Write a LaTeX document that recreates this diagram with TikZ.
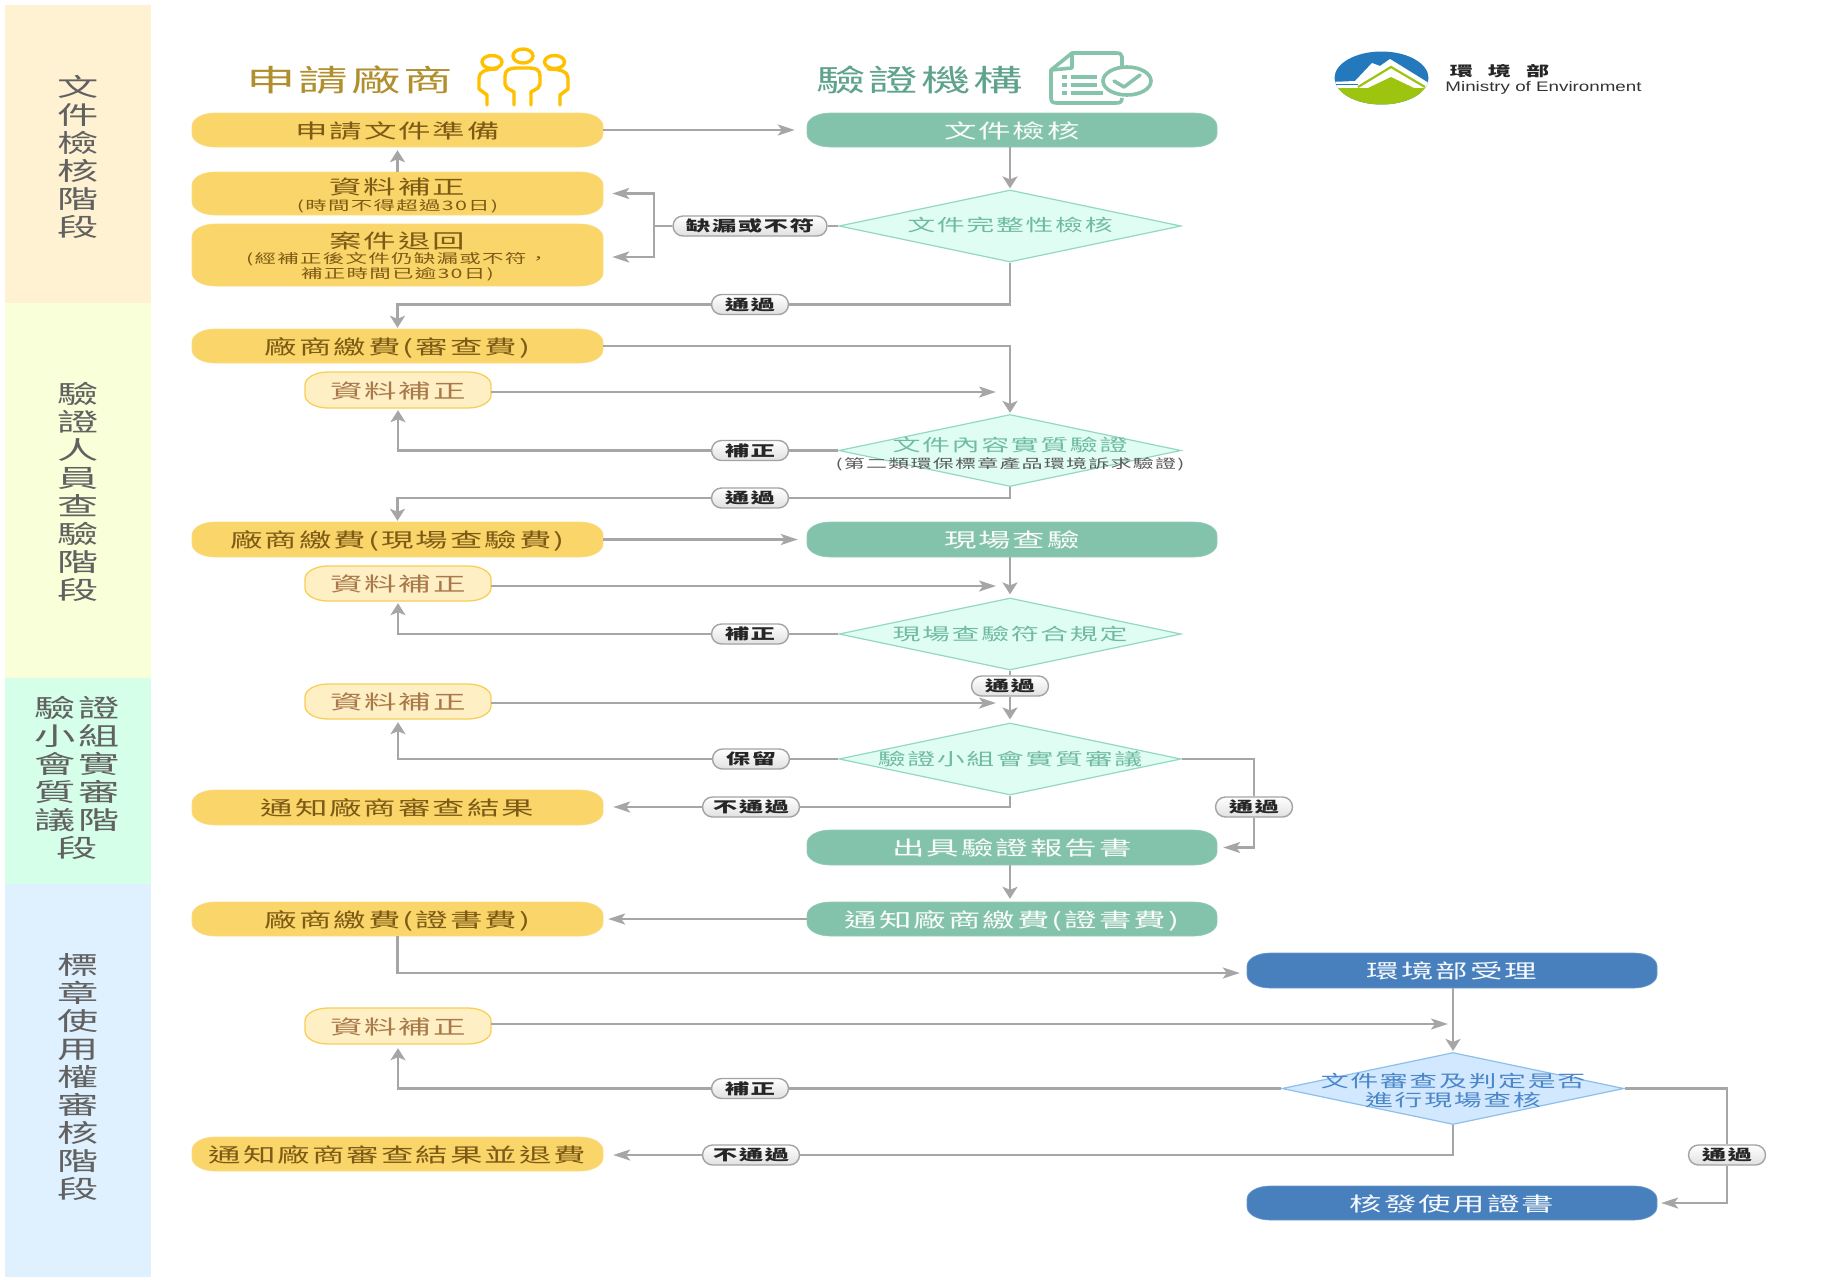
\documentclass[tikz,border=0pt]{standalone}
\usepackage{fontspec}
\usetikzlibrary{arrows.meta,shapes.geometric,calc}
\setmainfont[FakeStretch=1.65,LetterSpace=10]{Noto Sans CJK TC}
\newfontfamily\latinlogo[FakeStretch=1.36]{Liberation Sans}
\definecolor{pOrange}{HTML}{FFF2D3}
\definecolor{pLime}{HTML}{F8FFD9}
\definecolor{pMint}{HTML}{D5FFE9}
\definecolor{pBlue}{HTML}{DFF0FE}
\definecolor{cYel}{HTML}{FAD569}
\definecolor{cGrn}{HTML}{84C3AB}
\definecolor{cBlu}{HTML}{487FBD}
\definecolor{cLine}{HTML}{A6A6A6}
\definecolor{smallFill}{HTML}{FFEFC5}\definecolor{smallEdge}{HTML}{F8CF55}
\definecolor{brownTxt}{HTML}{7D5A16}\definecolor{smallTxt}{HTML}{A8794A}
\definecolor{dgFill}{HTML}{E0FDF3}\definecolor{dgEdge}{HTML}{93D9BD}
\definecolor{dbFill}{HTML}{D2E8FE}\definecolor{dbEdge}{HTML}{8DBFEC}
\definecolor{dgTxt}{HTML}{6FBBA1}\definecolor{dbTxt}{HTML}{4A86C8}
\definecolor{hGold}{HTML}{B08F2E}\definecolor{hGreen}{HTML}{5FA38B}
\definecolor{iconGold}{HTML}{FFC000}\definecolor{iconGreen}{HTML}{86C3AB}
\definecolor{logoBlue}{HTML}{2478BC}\definecolor{logoGreen}{HTML}{9DC40F}
\newcommand{\fA}{\fontsize{19.7}{23}\selectfont}
\newcommand{\fB}{\fontsize{13}{15}\selectfont}
\newcommand{\fC}{\fontsize{16.9}{20}\selectfont}
\newcommand{\fP}{\fontsize{25}{28}\selectfont}
\newcommand{\fL}{\fontsize{14.8}{16}\selectfont\bfseries}
\tikzset{
  panel/.style={fill=#1,draw=none},
  paneltext/.style={align=center,text=black!62,font=\fP,inner sep=0pt},
  pyel/.style={fill=cYel,draw=cYel!85!white,line width=.6pt},
  pgrn/.style={fill=cGrn,draw=cGrn!85!white,line width=.6pt},
  pblu/.style={fill=cBlu,draw=cBlu!80!white,line width=.6pt},
  psmall/.style={fill=smallFill,draw=smallEdge,line width=1.3pt},
  tyel/.style={text=brownTxt,font=\fA,align=center},
  tgrn/.style={text=white!95!cGrn,font=\fA,align=center},
  tblu/.style={text=white!95!cBlu,font=\fA,align=center},
  tsmall/.style={text=smallTxt,font=\fA,align=center},
  dmdG/.style={diamond,aspect=4.75,minimum width=342pt,minimum height=72pt,inner sep=0pt,fill=dgFill,draw=dgEdge,line width=1.2pt},
  dmdB/.style={diamond,aspect=4.75,minimum width=342pt,minimum height=72pt,inner sep=0pt,fill=dbFill,draw=dbEdge,line width=1.2pt},
  dtxtG/.style={text=dgTxt,font=\fC,align=center,inner sep=0pt},
  dtxtB/.style={text=dbTxt,font=\fC,align=center,inner sep=0pt},
  pill/.style={rectangle,rounded corners=10pt,minimum height=20pt,minimum width=#1,inner sep=0pt,
     top color=white,bottom color=black!12,draw=black!36,line width=1.4pt,text=black!85,font=\fL},
  pill/.default=77pt,
  conn/.style={draw=cLine,line width=2.3pt},
  ah/.style={conn,-{Stealth[length=17pt,width=11pt,inset=4pt]}},
  av/.style={conn,-{Stealth[length=12pt,width=15pt,inset=3pt]}},
}
% name, cx, cy, w, h, path style, text style, text
\newcommand{\RB}[8]{%
  \pgfmathsetmacro{\xl}{#2-#4/2}\pgfmathsetmacro{\xr}{#2+#4/2}%
  \pgfmathsetmacro{\yt}{#3-#5/2}\pgfmathsetmacro{\yb}{#3+#5/2}%
  \path[#6] ({\xl+23},\yt) -- ({\xr-23},\yt)
    .. controls ({\xr-10},\yt) and (\xr,{\yt+6}) .. (\xr,{\yt+13})
    -- (\xr,{\yb-13})
    .. controls (\xr,{\yb-6}) and ({\xr-10},\yb) .. ({\xr-23},\yb)
    -- ({\xl+23},\yb)
    .. controls ({\xl+10},\yb) and (\xl,{\yb-6}) .. (\xl,{\yb-13})
    -- (\xl,{\yt+13})
    .. controls (\xl,{\yt+6}) and ({\xl+10},\yt) .. ({\xl+23},\yt) -- cycle;
  \node[#7,minimum width=#4 pt,minimum height=#5 pt,inner sep=0pt] (#1) at (#2,#3) {\rule[-.22em]{0pt}{1.26em}#8};%
}
\begin{document}
\begin{tikzpicture}[x=1pt,y=-1pt]
\useasboundingbox (0,0) rectangle (1825,1283);
\fill[white] (0,0) rectangle (1825,1283);
% stage panels
\path[panel=pOrange] (5,5) rectangle (151,303);
\path[panel=pLime] (5,303) rectangle (151,678);
\path[panel=pMint] (5,678) rectangle (151,884);
\path[panel=pBlue] (5,884) rectangle (151,1277);
\node[paneltext] (st1) at (78,157) {文\\件\\檢\\核\\階\\段};
\node[paneltext] (st2) at (78,492) {驗\\證\\人\\員\\查\\驗\\階\\段};
\node[paneltext] (st3) at (77,778) {驗證\\小組\\會實\\質審\\議階\\段};
\node[paneltext] (st4) at (78,1077) {標\\章\\使\\用\\權\\審\\核\\階\\段};
% headers
\node[text=hGold,font=\fontsize{30}{33}\selectfont,inner sep=0pt] (h1) at (350,80) {申請廠商};
\node[text=hGreen,font=\fontsize{30}{33}\selectfont,inner sep=0pt] (h2) at (919.5,80) {驗證機構};
% people icon
\begin{scope}[draw=iconGold,line width=3.4pt,line join=round,line cap=round]
  \draw (523,56) ellipse [x radius=10,y radius=7];
  \draw (492,62) ellipse [x radius=10,y radius=6.5];
  \draw (554.5,62) ellipse [x radius=10,y radius=6.5];
  \draw (514,105) -- (514,92) -- (507,88) -- (505,84) -- (505,76) .. controls (505,70) and (510,68) .. (516,68)
     -- (530,68) .. controls (536,68) and (540,70) .. (540,76) -- (540,84) -- (538,88) -- (531,92) -- (531,105);
  \draw (497,69) .. controls (485,69) and (479,72) .. (479,78) -- (479,89) -- (487,95) -- (487,105);
  \draw (548,69) .. controls (561,69) and (568,72) .. (568,78) -- (568,89) -- (560,95) -- (560,105);
\end{scope}
% document icon
\begin{scope}[draw=iconGreen,line width=3.6pt,line join=round]
  \draw (1122,70) -- (1122,57) .. controls (1122,54) and (1120,53) .. (1116,53) -- (1072,53) -- (1051,70) -- (1051,98)
     .. controls (1051,102) and (1053,103) .. (1057,103) -- (1116,103) .. controls (1120,103) and (1122,102) .. (1122,98);
  \draw (1072,53) -- (1072,68) -- (1051,70);
  \draw (1071,77) -- (1097,77);
  \draw (1071,85) -- (1097,85);
  \draw (1071,93) -- (1103,93);
  \draw[line cap=butt] (1062,77) -- (1067,77) (1062,85) -- (1067,85) (1062,93) -- (1067,93);
  \draw[fill=white] (1127,81) ellipse [x radius=24,y radius=14];
  \draw[line cap=round] (1114,81) -- (1124,87) -- (1140,75);
\end{scope}
% logo
\begin{scope}
  \clip (1381.5,78) ellipse [x radius=47,y radius=26.5];
  \fill[logoBlue] (1330,50) rectangle (1432,106);
  \fill[white] (1330,82) -- (1355,81) -- (1372,63) -- (1380,66) -- (1390,59) -- (1432,85) -- (1432,92) -- (1330,92) -- cycle;
  \draw[logoGreen,line width=2.2pt] (1358,87) -- (1391,67) -- (1425,87);
  \draw[logoBlue,line width=1pt] (1330,84.5) -- (1358,84.5);
  \fill[logoGreen] (1330,88) -- (1368,88) -- (1391,77) -- (1414,88) -- (1432,88) -- (1432,106) -- (1330,106) -- cycle;
\end{scope}
\node[text=black!85,font=\fontsize{14}{16}\selectfont\bfseries,inner sep=0pt] (lg1) at (1499.5,71.5) {環\hspace{15pt}境\hspace{15pt}部};
\node[text=black!80,font=\latinlogo\fontsize{13.8}{15}\selectfont,inner sep=0pt] (lg2) at (1543.5,87.5) {Ministry of Environment};
% left column
\RB{b1}{397.5}{130}{411}{34}{pyel}{tyel}{申請文件準備}
\RB{b2}{397.5}{193.5}{411}{43}{pyel}{tyel}{資料補正\\[-7pt]\fB (時間不得超過30日)}
\RB{b3}{397.5}{255}{411}{62}{pyel}{tyel}{案件退回\\[-8pt]\fB (經補正後文件仍缺漏或不符，\\[-8pt]\fB 補正時間已逾30日)}
\RB{b4}{397.5}{346}{411}{34}{pyel}{tyel}{廠商繳費(審查費)}
\RB{s1}{398}{390}{186}{36}{psmall}{tsmall}{資料補正}
\RB{b5}{397.5}{539.5}{411}{35}{pyel}{tyel}{廠商繳費(現場查驗費)}
\RB{s2}{398}{583.5}{186}{35}{psmall}{tsmall}{資料補正}
\RB{s3}{398}{701.5}{186}{35}{psmall}{tsmall}{資料補正}
\RB{b6}{397.5}{807.5}{411}{35}{pyel}{tyel}{通知廠商審查結果}
\RB{b7}{397.5}{919}{411}{34}{pyel}{tyel}{廠商繳費(證書費)}
\RB{s4}{398}{1026}{186}{36}{psmall}{tsmall}{資料補正}
\RB{b8}{397.5}{1154}{411}{34}{pyel}{tyel}{通知廠商審查結果並退費}
% middle column
\RB{g1}{1012}{130}{410}{34}{pgrn}{tgrn}{文件檢核}
\RB{g2}{1012}{539.5}{410}{35}{pgrn}{tgrn}{現場查驗}
\RB{g3}{1012}{847.5}{410}{35}{pgrn}{tgrn}{出具驗證報告書}
\RB{g4}{1012}{919}{410}{34}{pgrn}{tgrn}{通知廠商繳費(證書費)}
% right column
\RB{u1}{1452}{970.5}{410}{35}{pblu}{tblu}{環境部受理}
\RB{u2}{1452}{1203}{410}{34}{pblu}{tblu}{核發使用證書}
% diamonds
\node[dmdG] (d1) at (1010,226) {};
\node[dtxtG] (d1t) at (1010,225) {文件完整性檢核};
\node[dmdG] (d2) at (1010,450.5) {};
\node[dtxtG] (d2t) at (1010,454) {文件內容實質驗證\\[-3pt]{\fontsize{12.7}{15}\selectfont\color{black!65}(第二類環保標章產品環境訴求驗證)}};
\node[dmdG] (d3) at (1010,634) {};
\node[dtxtG] (d3t) at (1010,634) {現場查驗符合規定};
\node[dmdG] (d4) at (1010,759) {};
\node[dtxtG] (d4t) at (1010,759) {驗證小組會實質審議};
\node[dmdB] (d5) at (1453,1088.5) {};
\node[dtxtB] (d5t) at (1453,1091) {文件審查及判定是否\\[-1pt]進行現場查核};
% labels
\node[pill=154pt] (l1) at (750,226) {缺漏或不符};
\node[pill] (l2) at (750,304.5) {通過};
\node[pill] (l3) at (750,450.5) {補正};
\node[pill] (l4) at (750,498) {通過};
\node[pill] (l5) at (750,634) {補正};
\node[pill] (l6) at (1010,686) {通過};
\node[pill] (l7) at (751,759) {保留};
\node[pill=97pt] (l8) at (751,807) {不通過};
\node[pill] (l9) at (1254,807) {通過};
\node[pill] (l10) at (750,1088.5) {補正};
\node[pill=97pt] (l11) at (751,1155) {不通過};
\node[pill] (l12) at (1727,1155) {通過};
% free connector ends
\coordinate (j1) at (654,226);
\coordinate (m1) at (996,392);
\coordinate (m2) at (996,586);
\coordinate (m3) at (996,703);
\coordinate (m4) at (1448,1024);
% connectors
\draw[ah,shorten >=12pt] (b1.east) -- (g1.west);
\draw[av,shorten >=3pt] (b2.north) -- (b1.south);
\draw[av,shorten >=1pt] (g1.south-|d1.north) -- (d1.north);
\draw[conn] (d1.west) -- (l1.east);
\draw[conn] (l1.west) -- (j1);
\draw[ah,shorten >=9pt] (j1) |- (b2.east);
\draw[ah,shorten >=9pt] (j1) |- ([yshift=-2pt]b3.east);
\draw[conn] (d1.south) |- (l2.east);
\draw[av,shorten >=1pt] (l2.west) -| (b4.north);
\draw[av,shorten >=1pt] (b4.east) -| (d2.north);
\draw[ah] (s1.east|-m1) -- (m1);
\draw[conn] (d2.west) -- (l3.east);
\draw[av,shorten >=2pt] (l3.west) -| (s1.south);
\draw[conn] (d2.south) |- (l4.east);
\draw[av,shorten >=1pt] (l4.west) -| (b5.north);
\draw[ah,shorten >=9pt] (b5.east) -- (g2.west);
\draw[av,shorten >=3pt] (g2.south-|d3.north) -- (d3.north);
\draw[ah] (s2.east|-m2) -- (m2);
\draw[conn] (d3.west) -- (l5.east);
\draw[av,shorten >=2pt] (l5.west) -| (s2.south);
\draw[conn] (d3.south) -- (l6.north);
\draw[av,shorten >=3pt] (l6.south) -- (d4.north);
\draw[ah] (s3.east|-m3) -- (m3);
\draw[conn] (d4.west) -- (l7.east);
\draw[av,shorten >=3pt] (l7.west) -| (s3.south);
\draw[conn] (d4.south) |- (l8.east);
\draw[ah,shorten >=10pt] (l8.west) -- (b6.east|-l8.west);
\draw[conn] (d4.east) -| (l9.north);
\draw[ah,shorten >=6pt] (l9.south) |- (g3.east);
\draw[av,shorten >=3pt] (g3.south-|d4.south) -- (g4.north-|d4.south);
\draw[ah,shorten >=5pt] (g4.west) -- (b7.east);
\draw[ah,shorten >=7pt] (b7.south) |- ([yshift=-2.5pt]u1.west);
\draw[av,shorten >=1pt] (u1.south-|d5.north) -- (d5.north);
\draw[ah] (s4.east|-m4) -- (m4);
\draw[conn] (d5.west) -- (l10.east);
\draw[av,shorten >=4pt] (l10.west) -| (s4.south);
\draw[conn] (d5.south) |- (l11.east);
\draw[ah,shorten >=10pt] (l11.west) -- (b8.east|-l11.west);
\draw[conn] (d5.east) -| (l12.north);
\draw[ah,shorten >=4pt] (l12.south) |- (u2.east);
\end{tikzpicture}
\end{document}
